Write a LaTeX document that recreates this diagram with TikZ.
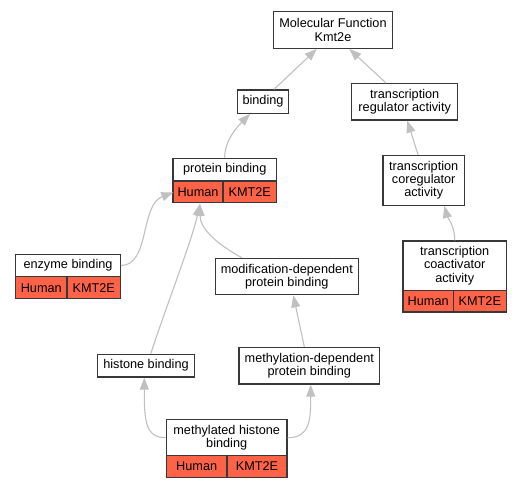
\documentclass[tikz,border=0pt]{standalone}
\usepackage{fontspec}
\setmainfont{Liberation Sans}
\usetikzlibrary{arrows.meta,calc}
\definecolor{edgegray}{HTML}{C0C0C0}
\definecolor{boxline}{HTML}{383838}
\definecolor{genered}{HTML}{FF6347}
\begin{document}
\begin{tikzpicture}[x=1pt,y=-1pt,
  box/.style={draw=boxline,line width=1.3pt,inner sep=0pt,anchor=center,align=center,
    font=\fontsize{12.7}{13.3}\selectfont,fill=white},
  gene/.style={box,fill=genered},
  edge/.style={draw=edgegray,line width=1.1pt,-{Triangle[length=12pt,width=9pt,fill=edgegray]}}]
\useasboundingbox (0,0) rectangle (527,488);
% nodes
\node[box,minimum width=119.4pt,minimum height=36.6pt] (mf) at (333,30) {Molecular Function\\Kmt2e};
\node[box,minimum width=50.6pt,minimum height=23.3pt] (bind) at (263,101.7) {binding};
\node[box,minimum width=106pt,minimum height=36.3pt] (tra) at (404.7,101.8) {transcription\\regulator activity};
\node[box,minimum width=103.3pt,minimum height=22.7pt] (pb) at (224.7,169.7) {protein binding};
\node[gene,minimum width=50pt,minimum height=21.7pt] (pbH) at (198,191.8) {Human};
\node[gene,minimum width=53.3pt,minimum height=21.7pt] (pbK) at (249.7,191.8) {KMT2E};
\node[box,minimum width=81.3pt,minimum height=50pt] (tcr) at (423.7,180.3) {transcription\\coregulator\\activity};
\node[box,minimum width=104.6pt,minimum height=22.4pt] (enz) at (68,265.5) {enzyme binding};
\node[gene,minimum width=51.3pt,minimum height=22pt] (enzH) at (41.3,287.7) {Human};
\node[gene,minimum width=53.3pt,minimum height=22pt] (enzK) at (93.7,287.7) {KMT2E};
\node[box,minimum width=143pt,minimum height=36.4pt] (mod) at (286.8,276.5) {modification-dependent\\protein binding};
\node[box,minimum width=103.3pt,minimum height=49.3pt] (tca) at (454.7,265.7) {transcription\\coactivator\\activity};
\node[gene,minimum width=50.3pt,minimum height=21.7pt] (tcaH) at (428.2,301.2) {Human};
\node[gene,minimum width=53pt,minimum height=21.7pt] (tcaK) at (479.8,301.2) {KMT2E};
\node[box,minimum width=96.6pt,minimum height=22.7pt] (hist) at (146,365.7) {histone binding};
\node[box,minimum width=140.7pt,minimum height=36.7pt] (methd) at (309.3,365.7) {methylation-dependent\\protein binding};
\node[box,minimum width=120.7pt,minimum height=36pt] (mhb) at (226.7,437.7) {methylated histone\\binding};
\node[gene,minimum width=60.7pt,minimum height=21.6pt] (mhbH) at (196.7,466.5) {Human};
\node[gene,minimum width=60pt,minimum height=21.6pt] (mhbK) at (257,466.5) {KMT2E};
% edges
\draw[edge] ($(bind.north)+(11,0)$) -- ($(mf.south)+(-16.3,0)$);
\draw[edge] ($(tra.north)+(-18.7,0)$) -- ($(mf.south)+(16.3,0)$);
\draw[edge] (pb.north) .. controls (224.5,140) and (238,126) .. ($(bind.south)+(-13,0)$);
\draw[edge] ($(tcr.north)+(-5.7,0)$) -- ($(tra.south)+(2.6,0)$);
\draw[edge] (tca.north) .. controls (455,226) and (447,216) .. ($(tcr.south)+(20.6,0)$);
\draw[edge] (enz.east) .. controls (150,265.5) and (140,205) .. ($(pbH.west)+(1,0.5)$);
\draw[edge] ($(mod.north)+(-45.1,0)$) .. controls (215,243) and (200,228) .. ($(pbH.south)+(2,0.5)$);
\draw[edge] ($(hist.north)+(4.7,0)$) .. controls (165,310) and (192,240) .. ($(pbH.south)+(2,0.5)$);
\draw[edge] ($(methd.north)+(-5,0)$) -- ($(mod.south)+(6.5,0)$);
\draw[edge] (mhb.west) .. controls (145,437.7) and (144.3,420) .. ($(hist.south)+(-1.7,0)$);
\draw[edge] (mhb.east) .. controls (310,437.7) and (310.7,420) .. ($(methd.south)+(1.4,0)$);
\end{tikzpicture}
\end{document}
